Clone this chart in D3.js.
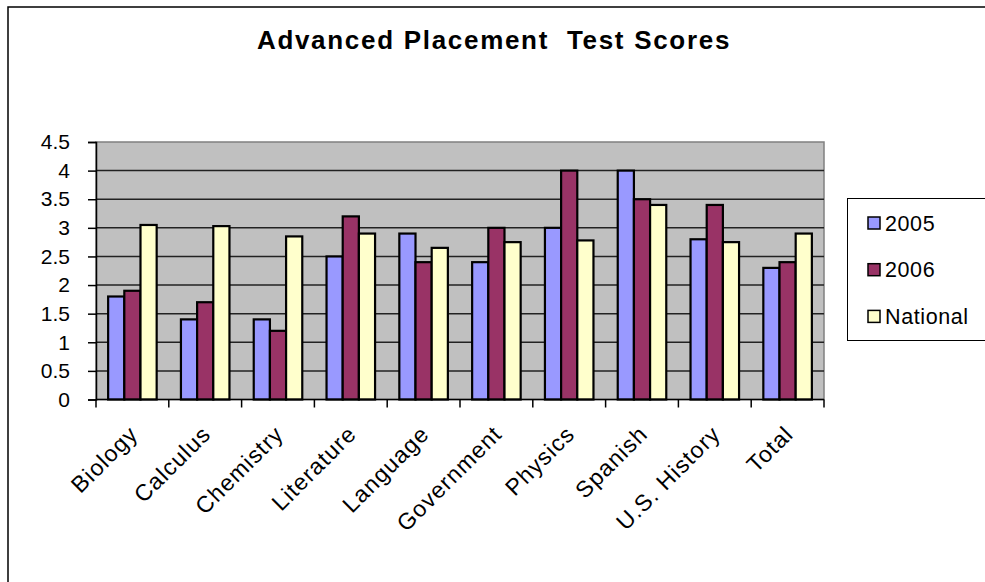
<!DOCTYPE html>
<html lang="en">
  <head>
    <meta charset="UTF-8" />
    <title>Advanced Placement Test Scores</title>
    <style>
      body {
        margin: 0;
        overflow: hidden;
        background: #fff;
      }
      text {
        font-family: "Liberation Sans", Arial, sans-serif;
        fill: #000;
      }
    </style>
    <script src="https://unpkg.com/d3@7.8.1/dist/d3.min.js"></script>
  </head>
  <body>
    <script>
      const { select, scaleLinear, scaleBand, axisLeft, range } = d3;

//Data
      const subjects = ["Biology", "Calculus", "Chemistry", "Literature", "Language",
        "Government", "Physics", "Spanish", "U.S. History", "Total"];
      const scores2005 = [1.8, 1.4, 1.4, 2.5, 2.9, 2.4, 3.0, 4.0, 2.8, 2.3];
      const scores2006 = [1.9, 1.7, 1.2, 3.2, 2.4, 3.0, 4.0, 3.5, 3.4, 2.4];
      const scoresNational = [3.05, 3.03, 2.85, 2.9, 2.65, 2.75, 2.78, 3.4, 2.75, 2.9];
      const seriesNames = ["2005", "2006", "National"];
      const yTicks = [0, 0.5, 1, 1.5, 2, 2.5, 3, 3.5, 4, 4.5];

//Tweakable
      const colors = ["#9999FF", "#993366", "#FFFFCC"];
      const width = 985;
      const height = 582;
      const plot = { left: 96, right: 824, top: 142, bottom: 399.5 };

      const svg = select("body")
        .append("svg")
        .attr("width", width)
        .attr("height", height);

      // outer chart border (only top and left show)
      svg.append("rect")
        .attr("x", 8).attr("y", 7)
        .attr("width", width + 20).attr("height", height + 20)
        .attr("fill", "none")
        .attr("stroke", "#000")
        .attr("stroke-width", 1.5);

      svg.append("text")
        .attr("x", 494)
        .attr("y", 48.5)
        .attr("text-anchor", "middle")
        .style("font-size", "26px")
        .style("font-weight", "bold")
        .style("letter-spacing", "1.7px")
        .style("white-space", "pre")
        .text("Advanced Placement  Test Scores");

      const x = scaleBand()
        .domain(subjects)
        .range([plot.left, plot.right])
        .paddingInner(1 / 3)
        .paddingOuter(1 / 6);

      const xs = scaleBand()
        .domain(seriesNames)
        .range([0, x.bandwidth()]);

      const y = scaleLinear()
        .domain([0, 4.5])
        .range([plot.bottom, plot.top]);

      // plot background
      svg.append("rect")
        .attr("x", plot.left).attr("y", plot.top)
        .attr("width", plot.right - plot.left)
        .attr("height", plot.bottom - plot.top)
        .attr("fill", "#C0C0C0")
        .attr("stroke", "#808080")
        .attr("stroke-width", 1.5);

      // gridlines
      svg.append("g")
        .selectAll("line")
        .data(yTicks.slice(1, -1))
        .join("line")
        .attr("x1", plot.left).attr("x2", plot.right)
        .attr("y1", d => y(d)).attr("y2", d => y(d))
        .attr("stroke", "#222")
        .attr("stroke-width", 1.5);

      // bars
      const table = subjects.map((s, i) => ({
        subject: s,
        values: [scores2005[i], scores2006[i], scoresNational[i]]
      }));

      svg.append("g")
        .selectAll("g")
        .data(table)
        .join("g")
        .attr("transform", d => `translate(${x(d.subject)},0)`)
        .selectAll("rect")
        .data(d => d.values.map((v, k) => ({ key: seriesNames[k], v, k })))
        .join("rect")
        .attr("x", d => xs(d.key))
        .attr("y", d => y(d.v))
        .attr("width", xs.bandwidth())
        .attr("height", d => y(0) - y(d.v))
        .attr("fill", d => colors[d.k])
        .attr("stroke", "#000")
        .attr("stroke-width", 2.2);

      // y axis
      const yAxis = svg.append("g")
        .attr("transform", `translate(${plot.left},0)`)
        .call(axisLeft(y).tickValues(yTicks).tickFormat(d => String(d)).tickSize(8).tickPadding(18));
      yAxis.select(".domain").attr("stroke", "#000").attr("stroke-width", 1.5);
      yAxis.selectAll(".tick line").attr("stroke", "#000").attr("stroke-width", 1.5);
      yAxis.selectAll(".tick text")
        .style("font-size", "21px")
        .style("font-family", "'Liberation Sans', Arial, sans-serif");

      // x axis line and category ticks
      const gap = x.step() - x.bandwidth();
      const bounds = subjects.map(s => x(s) - gap / 2).concat([plot.right]);
      const xAxis = svg.append("g");
      xAxis.append("line")
        .attr("x1", plot.left).attr("x2", plot.right)
        .attr("y1", plot.bottom).attr("y2", plot.bottom)
        .attr("stroke", "#000").attr("stroke-width", 1.5);
      xAxis.selectAll(".tk")
        .data(bounds)
        .join("line")
        .attr("class", "tk")
        .attr("x1", d => d).attr("x2", d => d)
        .attr("y1", plot.bottom).attr("y2", plot.bottom + 8)
        .attr("stroke", "#000").attr("stroke-width", 1.5);

      xAxis.selectAll(".lbl")
        .data(subjects)
        .join("text")
        .attr("class", "lbl")
        .attr("text-anchor", "end")
        .style("font-size", "23px")
        .style("letter-spacing", "1.1px")
        .attr("transform", d => `translate(${x(d) + x.bandwidth() / 2 + 7},${plot.bottom + 36}) rotate(-45)`)
        .text(d => d);

      // legend
      const legend = svg.append("g");
      legend.append("rect")
        .attr("x", 847.5).attr("y", 198.5)
        .attr("width", 160).attr("height", 142)
        .attr("fill", "#fff")
        .attr("stroke", "#000")
        .attr("stroke-width", 1);
      const rowY = range(seriesNames.length).map(i => 223 + i * 46.7);
      const items = legend.selectAll(".item")
        .data(seriesNames)
        .join("g")
        .attr("class", "item")
        .attr("transform", (d, i) => `translate(868,${rowY[i]})`);
      items.append("rect")
        .attr("x", 0).attr("y", -6)
        .attr("width", 12).attr("height", 12)
        .attr("fill", (d, i) => colors[i])
        .attr("stroke", "#000")
        .attr("stroke-width", 1.5);
      items.append("text")
        .attr("x", 17)
        .attr("y", 7.5)
        .style("font-size", "21.5px")
        .style("letter-spacing", "0.6px")
        .text(d => d);
    </script>
  </body>
</html>
